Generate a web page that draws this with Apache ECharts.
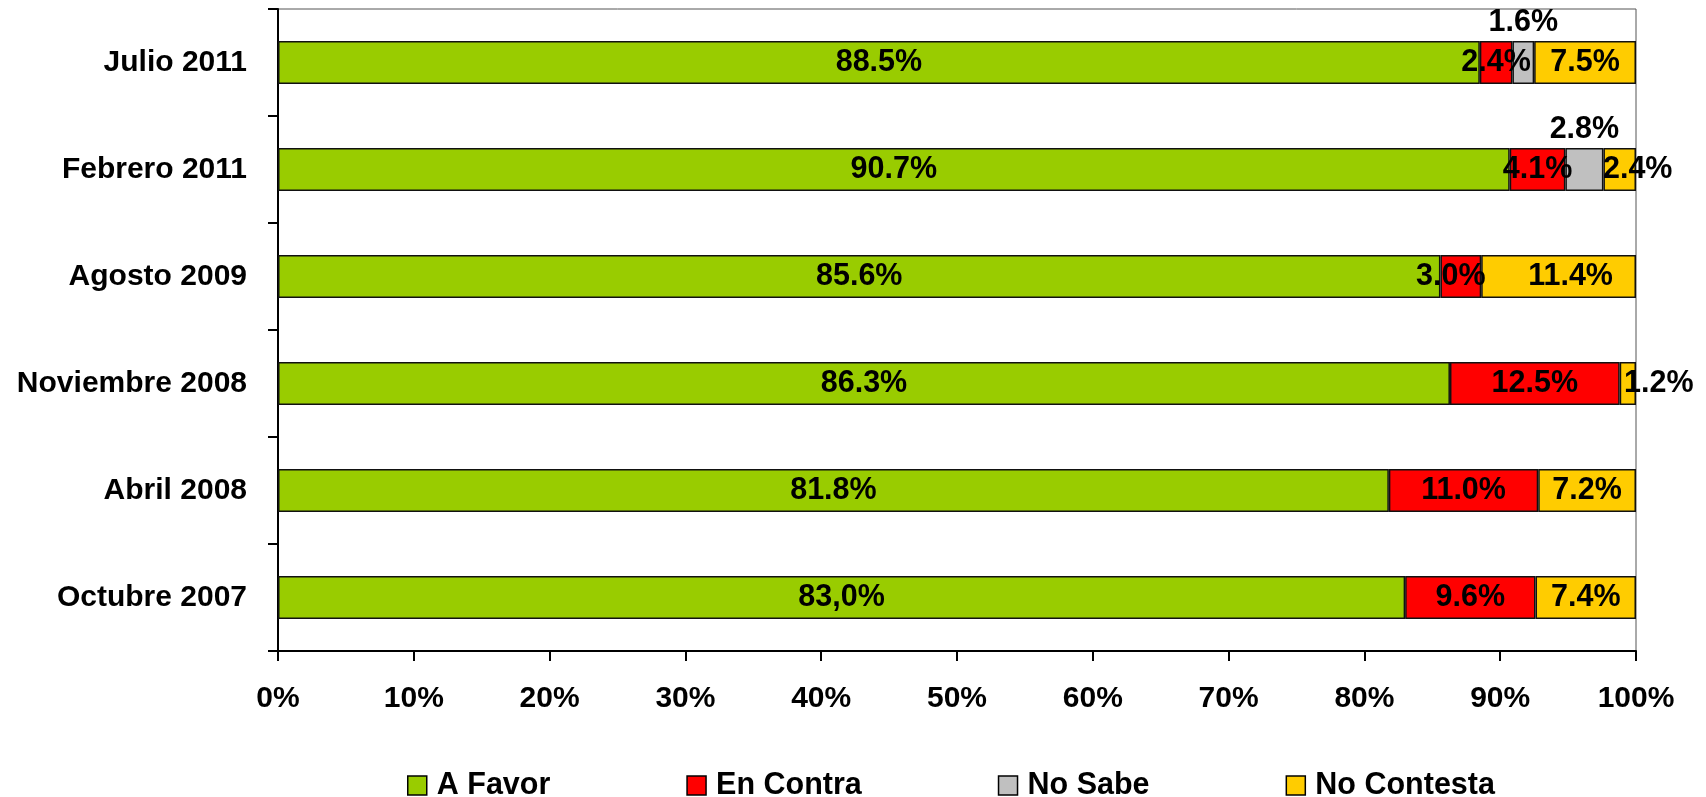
<!DOCTYPE html>
<html>
<head>
<meta charset="utf-8">
<script src="https://cdn.jsdelivr.net/npm/echarts@6/dist/echarts.min.js"></script>
<style>
html,body{margin:0;padding:0;background:#fff;}
#chart{width:1706px;height:797px;}
</style>
</head>
<body>
<div id="chart"></div>
<script>
// ---- Data ----
const categories = ['Julio 2011', 'Febrero 2011', 'Agosto 2009', 'Noviembre 2008', 'Abril 2008', 'Octubre 2007'];
const aFavor     = [88.5, 90.7, 85.6, 86.3, 81.8, 83.0];
const enContra   = [2.4, 4.1, 3.0, 12.5, 11.0, 9.6];
const noSabe     = [1.6, 2.8, null, null, null, null];
const noContesta = [7.5, 2.4, 11.4, 1.2, 7.2, 7.4];
const aFavorLabels = ['88.5%', '90.7%', '85.6%', '86.3%', '81.8%', '83,0%'];
const seriesNames = ['A Favor', 'En Contra', 'No Sabe', 'No Contesta'];
const xTicks = [0, 10, 20, 30, 40, 50, 60, 70, 80, 90, 100];

// ---- Styling (kept separate from data) ----
const colors = ['#99CC00', '#FF0000', '#C0C0C0', '#FFCC00'];
const FONT = "'Liberation Sans', Arial, sans-serif";
const labelOffsets = {
  'En Contra':   {2: [-10, 0]},
  'No Contesta': {1: [18, 0], 2: [12, 0], 3: [31, 0]}
};

const baseLabel = {
  show: true,
  color: '#000',
  fontFamily: FONT,
  fontWeight: 'bold',
  fontSize: 30.5,
  textBorderWidth: 0
};

function buildData(name, values) {
  const offs = labelOffsets[name] || {};
  return values.map((v, i) => {
    const item = { value: v };
    if (offs[i]) item.label = { offset: offs[i] };
    return item;
  });
}

const allValues = [aFavor, enContra, noSabe, noContesta];
const series = seriesNames.map((name, si) => ({
  name: name,
  type: 'bar',
  stack: 'total',
  barCategoryGap: '60%',
  data: buildData(name, allValues[si]),
  itemStyle: { color: colors[si], borderColor: '#111', borderWidth: 1.5 },
  label: Object.assign({}, baseLabel, {
    position: name === 'No Sabe' ? 'top' : 'inside',
    distance: 3,
    formatter: function (p) {
      if (p.value == null) return '';
      if (si === 0) return aFavorLabels[p.dataIndex];
      return p.value.toFixed(1) + '%';
    }
  }),
  emphasis: { disabled: true }
}));

const chart = echarts.init(document.getElementById('chart'), null, { renderer: 'canvas' });
chart.setOption({
  animation: false,
  backgroundColor: '#fff',
  grid: {
    left: 278, right: 70, top: 9, bottom: 146,
    show: true, borderColor: '#555', borderWidth: 1, backgroundColor: 'transparent'
  },
  legend: {
    data: seriesNames,
    left: 407,
    top: 770,
    padding: 0,
    icon: 'rect',
    itemWidth: 19,
    itemHeight: 19,
    itemGap: 136,
    itemStyle: { borderColor: '#000', borderWidth: 1.5 },
    textStyle: { color: '#000', fontFamily: FONT, fontWeight: 'bold', fontSize: 30.5, padding: [0, 0, 0, 5] },
    selectedMode: false
  },
  xAxis: {
    type: 'value',
    min: 0, max: 100, interval: 10,
    axisLine: { show: true, lineStyle: { color: '#000', width: 2 } },
    axisTick: { show: true, length: 10, lineStyle: { color: '#000', width: 2 } },
    splitLine: { show: false },
    axisLabel: {
      margin: 33,
      color: '#000', fontFamily: FONT, fontWeight: 'bold', fontSize: 30,
      formatter: function (v) { return xTicks.indexOf(v) >= 0 ? v + '%' : ''; }
    }
  },
  yAxis: {
    type: 'category',
    data: categories,
    inverse: true,
    axisLine: { show: true, lineStyle: { color: '#000', width: 2 } },
    axisTick: { show: true, length: 10, alignWithLabel: false, lineStyle: { color: '#000', width: 2 } },
    axisLabel: {
      margin: 31,
      color: '#000', fontFamily: FONT, fontWeight: 'bold', fontSize: 30
    }
  },
  series: series
});
</script>
</body>
</html>
